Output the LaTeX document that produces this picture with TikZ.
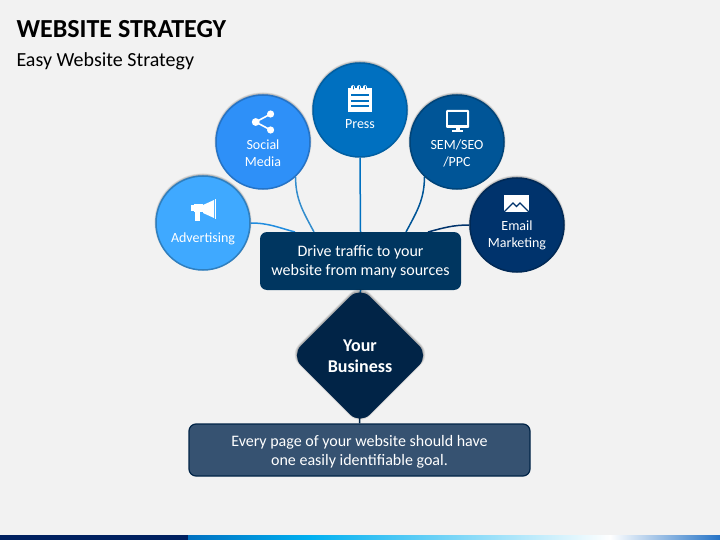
\documentclass[tikz,border=0pt]{standalone}
\usepackage{fontspec}
\setmainfont{Carlito}
\usetikzlibrary{shapes.geometric,shadows,backgrounds}
\definecolor{pagegray}{HTML}{F2F2F2}
\definecolor{advblue}{HTML}{3FA9FF}
\definecolor{socialblue}{HTML}{2E90F8}
\definecolor{pressblue}{HTML}{0070C0}
\definecolor{semblue}{HTML}{005597}
\definecolor{emailblue}{HTML}{00336C}
\definecolor{drivenavy}{HTML}{003660}
\definecolor{businessnavy}{HTML}{012447}
\definecolor{goalslate}{HTML}{365271}
\definecolor{bandnavy}{HTML}{002060}
\definecolor{bandcyan}{HTML}{00B0F0}
\tikzset{
  softshadow/.style={
    general shadow={fill=black, opacity=.07, shadow yshift=1pt, shadow scale=1.035},
    general shadow={fill=black, opacity=.10, shadow yshift=1pt, shadow scale=1.022},
    general shadow={fill=black, opacity=.14, shadow yshift=.8pt, shadow scale=1.01}},
  bubble/.style={circle, minimum size=94pt, inner sep=0pt, line width=1.5pt, text=white, align=center, font=\fontsize{14}{17}\selectfont, softshadow},
  link/.style={line width=1.5pt},
  panel/.style={rectangle, rounded corners=7pt, text=white, align=center, font=\fontsize{16}{19}\selectfont}
}
\begin{document}
\begin{tikzpicture}[x=1pt,y=-1pt]
\useasboundingbox (0,0) rectangle (720,540);
\begin{scope}[on background layer]
\fill[pagegray] (0,0) rectangle (720,540);
\end{scope}

\draw
(203,223) node[bubble, fill=advblue, draw=advblue!75!black](adv){\\[24pt]Advertising}
(263,142) node[bubble, fill=socialblue, draw=socialblue!80!black](social){\\[15pt]Social\\Media}
(360,110) node[bubble, fill=pressblue, draw=pressblue!85!black](press){\\[21pt]Press}
(457,142) node[bubble, fill=semblue, draw=semblue!80!black](sem){\\[15pt]SEM/SEO\\/PPC}
(517,225) node[bubble, fill=emailblue, draw=emailblue!80!black](email){\\[13pt]Email\\Marketing}
(360.5,261) node[panel, fill=drivenavy, minimum width=201pt, minimum height=58pt, text height=31pt](drive){Drive traffic to your\\website from many sources}
(360,355.5) node[diamond, fill=businessnavy, rounded corners=14pt, minimum size=138pt, inner sep=0pt, text=white, align=center, text height=34pt, font=\fontsize{18}{21}\selectfont\bfseries, softshadow](business){Your\\Business}
(359.5,450) node[panel, fill=goalslate, draw=businessnavy, line width=1.2pt, minimum width=341pt, minimum height=52pt, text height=33pt](goal){Every page of your website should have\\one easily identifiable goal.};

\coordinate (da) at (295,232);
\coordinate (db) at (314,232);
\coordinate (dc) at (406,232);
\coordinate (dd) at (428,232);

% connectors
\begin{scope}[on background layer]
\draw[link, color=advblue!50!pressblue] (adv.east) to[out=0, in=165] (da);
\draw[link, color=pressblue!80!white] (social.-47) to[out=-90, in=118] (db);
\draw[link, color=pressblue] (press.south) -- (drive.north);
\draw[link, color=semblue] (sem.-133) to[out=-90, in=62] (dc);
\draw[link, color=emailblue] (email.west) to[out=180, in=15] (dd);
\draw[link, color=pressblue] (drive.south) -- (business.center);
\draw[link, color=businessnavy] (business.center) -- (goal.north);
\end{scope}

% titles
\node[anchor=west, font=\fontsize{26}{30}\selectfont\bfseries](title) at (13,29){WEBSITE STRATEGY};
\node[anchor=west, font=\fontsize{20}{24}\selectfont](subtitle) at (13,61.5){Easy Website Strategy};

% megaphone
\fill[white] (191,205) rectangle (194,211);
\fill[white] (194,204) rectangle (203,212);
\fill[white] (195,212) rectangle (200,221);
\fill[white] (203,205) -- (214,200) -- (214,218) -- (203,213) -- cycle;
\fill[white] (214.7,199) rectangle (216,219);

% share
\draw[white, line width=1.6pt] (270.6,114) -- (255.7,122) -- (270.6,130);
\fill[white] (270.6,114) circle (3.6) (255.7,122) circle (3.9) (270.6,130) circle (3.6);

% notepad
\fill[white] (348,88) rectangle (372,112);
\foreach \x in {353,359,365} {
  \draw[white, line width=3.6pt, line cap=round] (\x,87) -- (\x,88.5);
  \draw[pressblue, line width=1pt, line cap=round] (\x,86.5) -- (\x,89);
}
\foreach \y in {95,101,106}
  \fill[pressblue] (351,\y-1) rectangle (369,\y+1);

% monitor
\fill[white, rounded corners=1pt] (446,110) rectangle (469,128);
\fill[semblue] (448,112) rectangle (467,125.5);
\fill[white] (455.5,128) rectangle (459.5,131);
\fill[white] (452,130.5) rectangle (463,132.5);

% envelope
\fill[white] (504,195) rectangle (529,212);
\draw[emailblue, line width=1.1pt] (504,212) -- (513,203) -- (516.5,206.5) -- (520,203) -- (529,212);

% bottom band
\fill[bandnavy] (0,535) rectangle (188,540);
\shade[left color=pressblue, right color=bandcyan] (188,535) rectangle (310,540);
\shade[left color=bandcyan, right color=white] (310,535) rectangle (610,540);
\shade[left color=white, right color=socialblue!80!black] (610,535) rectangle (720,540);
\end{tikzpicture}
\end{document}
